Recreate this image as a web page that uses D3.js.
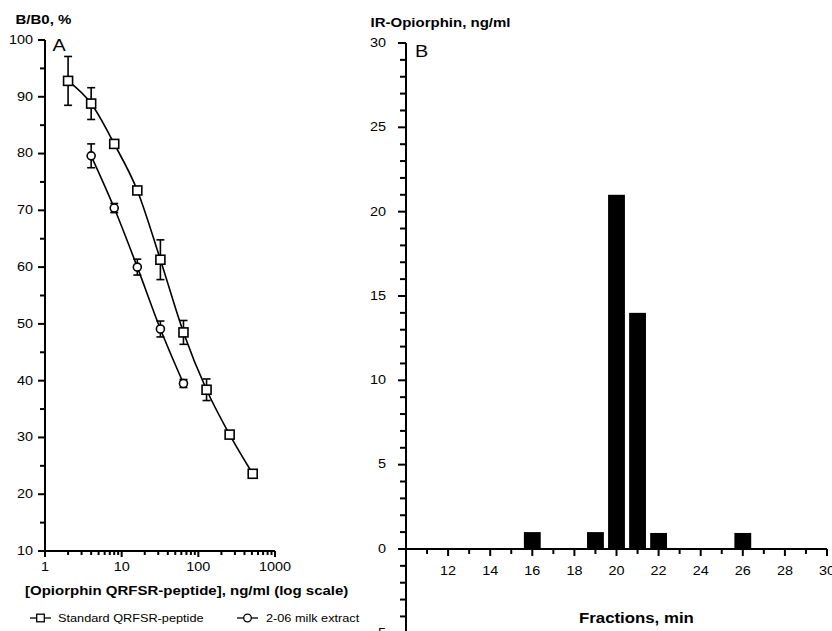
<!DOCTYPE html>
<html>
<head>
<meta charset="utf-8">
<script src="https://cdn.jsdelivr.net/npm/d3@7/dist/d3.min.js"></script>
<style>
  body { margin: 0; background: #fff; }
  svg text { font-family: "Liberation Sans", Arial, Helvetica, sans-serif; fill: #000; }
</style>
</head>
<body>
<svg id="fig" width="832" height="631"></svg>
<script>
// ---- Panel A: displacement curves (B/B0 vs. peptide concentration) ----
const standardConc = [2, 4, 8, 16, 32, 64, 128, 256, 512];
const standardBB0  = [92.8, 88.8, 81.7, 73.5, 61.3, 48.5, 38.4, 30.5, 23.6];
const standardErr  = [4.3, 2.8, 0, 0, 3.5, 2.1, 1.9, 0, 0];

const extractConc = [4, 8, 16, 32, 64];
const extractBB0  = [79.6, 70.4, 60.0, 49.1, 39.5];
const extractErr  = [2.1, 0.8, 1.4, 1.4, 0.7];

const yTicksA      = [10, 20, 30, 40, 50, 60, 70, 80, 90, 100];
const yMinorTicksA = [15, 25, 35, 45, 55, 65, 75, 85, 95];
const xTicksA      = [1, 10, 100, 1000];
const xMinorTicksA = [2, 3, 4, 5, 6, 7, 8, 9, 20, 30, 40, 50, 60, 70, 80, 90,
                      200, 300, 400, 500, 600, 700, 800, 900];

const legendLabels = ["Standard QRFSR-peptide", "2-06 milk extract"];

// ---- Panel B: IR-opiorphin per HPLC fraction ----
const fractions   = [16, 19, 20, 21, 22, 26];
const irOpiorphin = [1, 1, 21, 14, 0.95, 0.95];

const xTicksB      = [12, 14, 16, 18, 20, 22, 24, 26, 28, 30];
const xMinorTicksB = [11, 13, 15, 17, 19, 21, 23, 25, 27, 29];
const yTicksB      = [-5, 0, 5, 10, 15, 20, 25, 30];
const yMinorTicksB = d3.range(-5, 31).filter(v => v % 5 !== 0);

const svg = d3.select("#fig");
const AXIS_W = 2;

function styleAxis(g, fontSize) {
  g.attr("font-family", null).attr("font-size", null);
  g.selectAll("path.domain").attr("stroke-width", AXIS_W).attr("stroke", "#000");
  g.selectAll(".tick line").attr("stroke-width", AXIS_W).attr("stroke", "#000");
  g.selectAll(".tick text").style("font-size", fontSize + "px");
}

// ================= Panel A =================
const xA = d3.scaleLog().domain([1, 1000]).range([45, 275]);
const yA = d3.scaleLinear().domain([10, 100]).range([551, 40]);

const gA = svg.append("g");

gA.append("g").attr("transform", `translate(${xA(1)},0)`)
  .call(d3.axisLeft(yA).offset(0).tickValues(yMinorTicksA).tickSize(5).tickFormat("").tickSizeOuter(0))
  .call(g => styleAxis(g, 12));
gA.append("g").attr("transform", `translate(${xA(1)},0)`)
  .call(d3.axisLeft(yA).offset(0).tickValues(yTicksA).tickSize(7).tickPadding(5).tickSizeOuter(0))
  .call(g => styleAxis(g, 12));

gA.append("g").attr("transform", `translate(0,${yA(10)})`)
  .call(d3.axisBottom(xA).offset(0).tickValues(xMinorTicksA).tickSize(4).tickFormat("").tickSizeOuter(0))
  .call(g => styleAxis(g, 12));
gA.append("g").attr("transform", `translate(0,${yA(10)})`)
  .call(d3.axisBottom(xA).offset(0).tickValues(xTicksA).tickSize(6).tickPadding(5)
        .tickFormat(d3.format("d")).tickSizeOuter(0))
  .call(g => styleAxis(g, 12));

const curve = d3.line().x(d => xA(d[0])).y(d => yA(d[1])).curve(d3.curveMonotoneX);

function drawSeries(conc, vals, errs, shape) {
  const pts = conc.map((c, i) => [c, vals[i], errs[i]]);
  gA.append("path").datum(pts).attr("d", curve)
    .attr("fill", "none").attr("stroke", "#000").attr("stroke-width", 1.6);

  const eb = gA.append("g").attr("stroke", "#000").attr("stroke-width", 1.6);
  pts.filter(d => d[2] > 0).forEach(d => {
    const x = xA(d[0]), y1 = yA(d[1] + d[2]), y2 = yA(d[1] - d[2]);
    eb.append("line").attr("x1", x).attr("x2", x).attr("y1", y1).attr("y2", y2);
    eb.append("line").attr("x1", x - 4).attr("x2", x + 4).attr("y1", y1).attr("y2", y1);
    eb.append("line").attr("x1", x - 4).attr("x2", x + 4).attr("y1", y2).attr("y2", y2);
  });

  const mk = gA.append("g").attr("fill", "#fff").attr("stroke", "#000").attr("stroke-width", 1.6);
  pts.forEach(d => {
    const x = xA(d[0]), y = yA(d[1]);
    if (shape === "square") {
      mk.append("rect").attr("x", x - 4.5).attr("y", y - 4.5).attr("width", 9).attr("height", 9);
    } else {
      mk.append("circle").attr("cx", x).attr("cy", y).attr("r", 4);
    }
  });
}
drawSeries(standardConc, standardBB0, standardErr, "square");
drawSeries(extractConc, extractBB0, extractErr, "circle");

gA.append("text").attr("x", 15.5).attr("y", 24)
  .style("font-size", "12.5px").style("font-weight", "bold").text("B/B0, %");
gA.append("text").attr("x", 52.5).attr("y", 51).style("font-size", "16.5px").text("A");
gA.append("text").attr("x", 25).attr("y", 595)
  .style("font-size", "12.5px").style("font-weight", "bold")
  .text("[Opiorphin QRFSR-peptide], ng/ml (log scale)");

// legend
const legend = gA.append("g");
[[30, 58, "square"], [237, 266, "circle"]].forEach(([x0, tx, shape], i) => {
  const ly = 618;
  legend.append("line").attr("x1", x0).attr("x2", x0 + 21).attr("y1", ly).attr("y2", ly)
    .attr("stroke", "#000").attr("stroke-width", 1.3);
  if (shape === "square") {
    legend.append("rect").attr("x", x0 + 10.5 - 3.8).attr("y", ly - 3.8)
      .attr("width", 7.6).attr("height", 7.6)
      .attr("fill", "#fff").attr("stroke", "#000").attr("stroke-width", 1.3);
  } else {
    legend.append("circle").attr("cx", x0 + 10.5).attr("cy", ly).attr("r", 3.8)
      .attr("fill", "#fff").attr("stroke", "#000").attr("stroke-width", 1.3);
  }
  legend.append("text").attr("x", tx).attr("y", ly + 4)
    .style("font-size", "10.6px").text(legendLabels[i]);
});

// ================= Panel B =================
const xB = d3.scaleLinear().domain([10, 30]).range([406, 827]);
const yB = d3.scaleLinear().domain([-5, 30]).range([633.3, 43]);

const gB = svg.append("g");

gB.selectAll("rect.bar").data(fractions).join("rect").attr("class", "bar")
  .attr("x", d => xB(d - 0.4))
  .attr("width", d => xB(d + 0.4) - xB(d - 0.4))
  .attr("y", (d, i) => yB(irOpiorphin[i]))
  .attr("height", (d, i) => yB(0) - yB(irOpiorphin[i]))
  .attr("fill", "#000");

gB.append("g").attr("transform", `translate(0,${yB(0)})`)
  .call(d3.axisBottom(xB).offset(0).tickValues(xMinorTicksB).tickSize(5).tickFormat("").tickSizeOuter(0))
  .call(g => styleAxis(g, 12));
gB.append("g").attr("transform", `translate(0,${yB(0)})`)
  .call(d3.axisBottom(xB).offset(0).tickValues(xTicksB).tickSize(7).tickPadding(11).tickSizeOuter(0))
  .call(g => styleAxis(g, 12));

gB.append("g").attr("transform", `translate(${xB(10)},0)`)
  .call(d3.axisLeft(yB).offset(0).tickValues(yMinorTicksB).tickSize(6).tickFormat("").tickSizeOuter(0))
  .call(g => styleAxis(g, 12));
gB.append("g").attr("transform", `translate(${xB(10)},0)`)
  .call(d3.axisLeft(yB).offset(0).tickValues(yTicksB).tickSize(8).tickPadding(12).tickSizeOuter(0))
  .call(g => styleAxis(g, 12));

gB.append("text").attr("x", 370.5).attr("y", 27)
  .style("font-size", "12.5px").style("font-weight", "bold").text("IR-Opiorphin, ng/ml");
gB.append("text").attr("x", 415).attr("y", 57).style("font-size", "16.5px").text("B");
gB.append("text").attr("x", 579).attr("y", 623)
  .style("font-size", "14px").style("font-weight", "bold").text("Fractions, min");

// all lettering in this figure is set slightly wide
svg.selectAll("text").each(function () {
  const w = this.getComputedTextLength();
  if (w > 0) d3.select(this).attr("textLength", w * 1.2).attr("lengthAdjust", "spacingAndGlyphs");
});
</script>
</body>
</html>
